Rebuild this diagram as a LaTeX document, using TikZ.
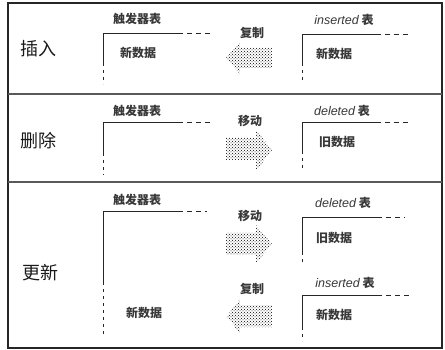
\documentclass[tikz,border=0pt]{standalone}
\usepackage{fontspec}
\setmainfont{Liberation Sans}
\newfontfamily\cjk{Noto Sans CJK SC}
\newfontfamily\lat{Liberation Sans}
\usetikzlibrary{patterns}
\tikzset{
  frame/.style={line width=1.2pt, black!85},
  divider/.style={line width=1.5pt, black!65},
  rowlabel/.style={font=\cjk\fontsize{18}{20}\selectfont, inner sep=0pt, text=black!90},
  lbl/.style={font=\cjk\bfseries\fontsize{12}{14}\selectfont, inner sep=0pt, text=black!78},
  tsolid/.style={line width=0.9pt, black!85},
  hdash/.style={line width=0.9pt, black!85, dash pattern=on 5pt off 4pt},
  vdash/.style={line width=0.9pt, black!85, dash pattern=on 3pt off 4pt},
  bigarrow/.style={pattern=crosshatch dots, pattern color=black, draw=none},
}
\newcommand{\latit}[1]{{\lat\mdseries\itshape\fontsize{12.5}{14}\selectfont #1}}
\begin{document}
\begin{tikzpicture}[x=1pt,y=-1pt]
\useasboundingbox (0,0) rectangle (445,350);
% frame
\draw[frame] (8,3) rectangle (442,348);
\draw[divider] (8,94) -- (442,94);
\draw[divider] (8,182) -- (442,182);

% ---------- Row 1: insert
\node[rowlabel] (r1) at (38,49) {插入};
\node[lbl] (t1) at (137,19) {触发器表};
\coordinate (c1) at (103,33);
\draw[tsolid] (103,63) -- (c1) -- (178,33);
\draw[hdash] (178,33) -- (210,33);
\draw[vdash] (103,63) -- (103,84);
\node[lbl] (d1) at (138,53) {新数据};

\node[lbl] (a1) at (252,33) {复制};
\draw[bigarrow] (226,58) -- (240,42) -- (240,48) -- (272,48) -- (272,68) -- (240,68) -- (240,74) -- cycle;

\node[lbl] (t2) at (344,20) {\latit{inserted} 表};
\coordinate (c2) at (302,34);
\draw[tsolid] (302,63) -- (c2) -- (376,34);
\draw[hdash] (376,34) -- (410,34);
\draw[vdash] (302,63) -- (302,80);
\node[lbl] (d2) at (334,54) {新数据};

% ---------- Row 2: delete
\node[rowlabel] (r2) at (38,141) {删除};
\node[lbl] (t3) at (137,111) {触发器表};
\coordinate (c3) at (103,122);
\draw[tsolid] (103,153) -- (c3) -- (178,122);
\draw[hdash] (178,122) -- (210,122);
\draw[vdash] (103,153) -- (103,175);

\node[lbl] (a2) at (250,121) {移动};
\draw[bigarrow] (226,138) -- (256,138) -- (256,130) -- (272,150) -- (256,171) -- (256,160) -- (226,160) -- cycle;

\node[lbl] (t4) at (342,111) {\latit{deleted} 表};
\coordinate (c4) at (302,122);
\draw[tsolid] (302,151) -- (c4) -- (376,122);
\draw[hdash] (376,122) -- (408,122);
\draw[vdash] (302,151) -- (302,168);
\node[lbl] (d4) at (337,142) {旧数据};

% ---------- Row 3: update
\node[rowlabel] (r3) at (40,273) {更新};
\node[lbl] (t5) at (137,200) {触发器表};
\coordinate (c5) at (103,211);
\draw[tsolid] (103,282) -- (c5) -- (178,211);
\draw[hdash] (178,211) -- (207,211);
\draw[vdash] (103,282) -- (103,334);
\node[lbl] (d5) at (144,313) {新数据};

\node[lbl] (a3) at (250,216) {移动};
\draw[bigarrow] (226,233) -- (256,233) -- (256,225) -- (272,244) -- (256,263) -- (256,255) -- (226,255) -- cycle;

\node[lbl] (a4) at (252,289) {复制};
\draw[bigarrow] (227,316) -- (240,299) -- (240,305) -- (272,305) -- (272,327) -- (240,327) -- (240,334) -- cycle;

\node[lbl] (t6) at (343,203) {\latit{deleted} 表};
\coordinate (c6) at (302,217);
\draw[tsolid] (302,252) -- (c6) -- (377,217);
\draw[hdash] (377,217) -- (405,217);
\draw[vdash] (302,252) -- (302,263);
\node[lbl] (d6) at (334,238) {旧数据};

\node[lbl] (t7) at (345,283) {\latit{inserted} 表};
\coordinate (c7) at (302,295);
\draw[tsolid] (302,327) -- (c7) -- (377,295);
\draw[hdash] (377,295) -- (410,295);
\draw[vdash] (302,327) -- (302,341);
\node[lbl] (d7) at (334,315) {新数据};
\end{tikzpicture}
\end{document}
